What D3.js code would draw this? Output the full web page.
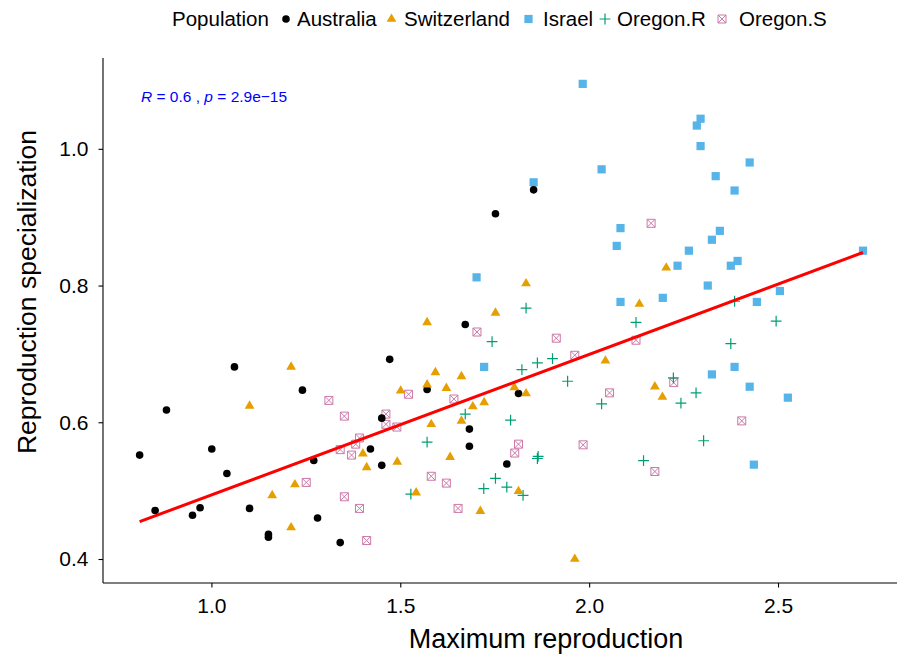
<!DOCTYPE html>
<html><head><meta charset="utf-8">
<script src="https://cdn.jsdelivr.net/npm/d3@7"></script>
<style>body{margin:0;background:#fff} text{font-family:"Liberation Sans", Arial, Helvetica, sans-serif}</style>
</head><body><svg id="c" width="900" height="656"></svg>
<script>
// ---- data ----
const populations = ["Australia","Switzerland","Israel","Oregon.R","Oregon.S"];
const australia = [[1.061,0.681],[1.241,0.647],[0.881,0.618],[0.810,0.552],[1.001,0.561],[1.041,0.525],[1.271,0.544],[0.851,0.471],[0.950,0.464],[0.970,0.475],[1.101,0.474],[1.151,0.436],[1.151,0.432],[1.281,0.460],[1.341,0.424],[1.672,0.743],[1.472,0.692],[1.571,0.648],[1.813,0.642],[1.451,0.606],[1.683,0.590],[1.683,0.565],[1.421,0.561],[1.451,0.537],[1.782,0.539],[1.853,0.940],[1.752,0.905]];
const switzerland = [[1.211,0.681],[1.101,0.624],[1.221,0.509],[1.161,0.493],[1.211,0.446],[1.752,0.760],[1.571,0.746],[1.593,0.673],[1.662,0.667],[1.571,0.655],[1.501,0.646],[1.622,0.650],[1.802,0.651],[1.833,0.642],[1.692,0.623],[1.722,0.629],[1.582,0.597],[1.662,0.602],[1.401,0.554],[1.411,0.534],[1.492,0.542],[1.632,0.549],[1.542,0.497],[1.813,0.499],[1.712,0.470],[1.962,0.400],[1.833,0.803],[2.043,0.690],[2.204,0.826],[2.133,0.773],[2.174,0.652],[2.194,0.637]];
const israel = [[1.983,1.095],[2.295,1.044],[2.285,1.034],[2.295,1.004],[2.425,0.980],[2.033,0.970],[2.335,0.960],[2.385,0.939],[1.853,0.951],[2.083,0.884],[2.346,0.880],[2.073,0.858],[2.325,0.867],[2.264,0.851],[2.234,0.829],[2.393,0.836],[2.375,0.829],[2.725,0.851],[2.314,0.800],[2.505,0.792],[2.083,0.776],[2.195,0.782],[2.444,0.776],[1.702,0.812],[1.722,0.681],[2.385,0.681],[2.325,0.670],[2.425,0.652],[2.526,0.636],[2.436,0.538]];
const oregonR = [[1.833,0.767],[1.743,0.718],[1.822,0.677],[1.863,0.687],[1.903,0.693],[1.943,0.660],[1.672,0.612],[1.792,0.603],[1.571,0.571],[1.863,0.547],[1.865,0.550],[1.752,0.518],[1.721,0.503],[1.782,0.505],[1.528,0.495],[1.825,0.493],[2.124,0.746],[2.495,0.748],[2.375,0.715],[2.385,0.777],[2.223,0.665],[2.283,0.643],[2.243,0.628],[2.033,0.627],[2.303,0.573],[2.144,0.544]];
const oregonS = [[1.311,0.632],[1.352,0.609],[1.341,0.560],[1.371,0.552],[1.251,0.512],[1.352,0.491],[1.703,0.732],[1.913,0.723],[1.962,0.698],[1.522,0.641],[1.642,0.634],[1.462,0.612],[1.462,0.597],[1.491,0.593],[1.392,0.577],[1.382,0.568],[1.813,0.568],[1.803,0.555],[1.582,0.521],[1.622,0.511],[1.392,0.474],[1.653,0.474],[1.411,0.427],[2.164,0.891],[2.124,0.720],[2.054,0.643],[2.224,0.658],[2.404,0.602],[1.984,0.567],[2.174,0.528]];
const fitSlope = 0.2056, fitIntercept = 0.2881;
const xTicks = [1.0, 1.5, 2.0, 2.5];
const yTicks = [0.4, 0.6, 0.8, 1.0];
const xLimits = [0.713, 2.815];
const yLimits = [0.3649, 1.1299];
const statR = "0.6", statP = "2.9e\u221215";
const xTitle = "Maximum reproduction", yTitle = "Reproduction specialization", legendTitle = "Population";

// ---- layout / style ----
const seriesData = {"Australia": australia, "Switzerland": switzerland, "Israel": israel, "Oregon.R": oregonR, "Oregon.S": oregonS};
const colors = {"Australia":"#000000","Switzerland":"#E69F00","Israel":"#56B4E9","Oregon.R":"#009E73","Oregon.S":"#CC79A7"};
const drawOrder = ["Israel","Oregon.S","Oregon.R","Australia","Switzerland"];
const L = 103, R = 897, T = 60, B = 583;
const svg = d3.select("#c");
const x = d3.scaleLinear().domain(xLimits).range([L, R]);
const y = d3.scaleLinear().domain(yLimits).range([B, T]);

function marker(sel, pop) {
  const c = colors[pop];
  if (pop === "Australia") sel.append("circle").attr("r", 3.8).attr("fill", c);
  else if (pop === "Switzerland") sel.append("path").attr("d", "M0,-5.6L4.9,2.8L-4.9,2.8Z").attr("fill", c);
  else if (pop === "Israel") sel.append("rect").attr("x", -4.1).attr("y", -4.1).attr("width", 8.2).attr("height", 8.2).attr("fill", c);
  else if (pop === "Oregon.R") sel.append("path").attr("d", "M-5.4,0H5.4M0,-5.4V5.4").attr("stroke", c).attr("stroke-width", 1.2).attr("fill", "none");
  else sel.append("path").attr("d", "M-4,-4H4V4H-4ZM-4,-4L4,4M4,-4L-4,4").attr("stroke", c).attr("stroke-width", 1).attr("fill", "none");
}

// points
drawOrder.forEach(pop => {
  svg.append("g").selectAll("g").data(seriesData[pop]).join("g")
    .attr("transform", d => `translate(${x(d[0])},${y(d[1])})`)
    .each(function(){ marker(d3.select(this), pop); });
});

// regression line
const allX = [].concat(...Object.values(seriesData)).map(d => d[0]);
const xe = d3.extent(allX);
svg.append("path")
  .attr("d", d3.line().x(d => x(d)).y(d => y(fitIntercept + fitSlope * d))(xe))
  .attr("stroke", "#FF0000").attr("stroke-width", 3).attr("fill", "none");

// axes
const xAxis = svg.append("g").attr("transform", `translate(0,${B})`)
  .call(d3.axisBottom(x).tickValues(xTicks).tickFormat(d3.format(".1f")).tickSize(4.5).tickPadding(11));
const yAxis = svg.append("g").attr("transform", `translate(${L},0)`)
  .call(d3.axisLeft(y).tickValues(yTicks).tickFormat(d3.format(".1f")).tickSize(4.5).tickPadding(10));
[xAxis, yAxis].forEach(a => {
  a.select(".domain").attr("stroke", "#000").attr("stroke-width", 1.1);
  a.selectAll(".tick line").attr("stroke", "#000").attr("stroke-width", 1.1);
  a.selectAll(".tick text").attr("fill", "#000").style("font-size", "21px").style("font-family", '"Liberation Sans", Arial, sans-serif');
});
xAxis.select(".domain").attr("d", `M${L},0H${R}`);
yAxis.select(".domain").attr("d", `M0,${B}V${T-2}`);

// axis titles
svg.append("text").attr("x", 546).attr("y", 648).attr("text-anchor", "middle")
  .style("font-size", "27px").text(xTitle);
svg.append("text").attr("transform", "translate(36,292) rotate(-90)").attr("text-anchor", "middle")
  .style("font-size", "26.5px").text(yTitle);

// stat annotation
const st = svg.append("text").attr("x", 141).attr("y", 102).attr("fill", "#0000FF").style("font-size", "15.5px");
st.append("tspan").style("font-style", "italic").text("R");
st.append("tspan").text(" = " + statR + " , ");
st.append("tspan").style("font-style", "italic").text("p");
st.append("tspan").text(" = " + statP);

// legend
const legendKeyX = [286, 391.5, 528.5, 605, 722];
const legendTextX = [297, 404, 543, 617, 739];
svg.append("text").attr("x", 172).attr("y", 26).style("font-size", "20.5px").text(legendTitle);
populations.forEach((pop, i) => {
  const g = svg.append("g").attr("transform", `translate(${legendKeyX[i]},19)`);
  marker(g, pop);
  svg.append("text").attr("x", legendTextX[i]).attr("y", 26).style("font-size", "20.5px").text(pop);
});
</script></body></html>
